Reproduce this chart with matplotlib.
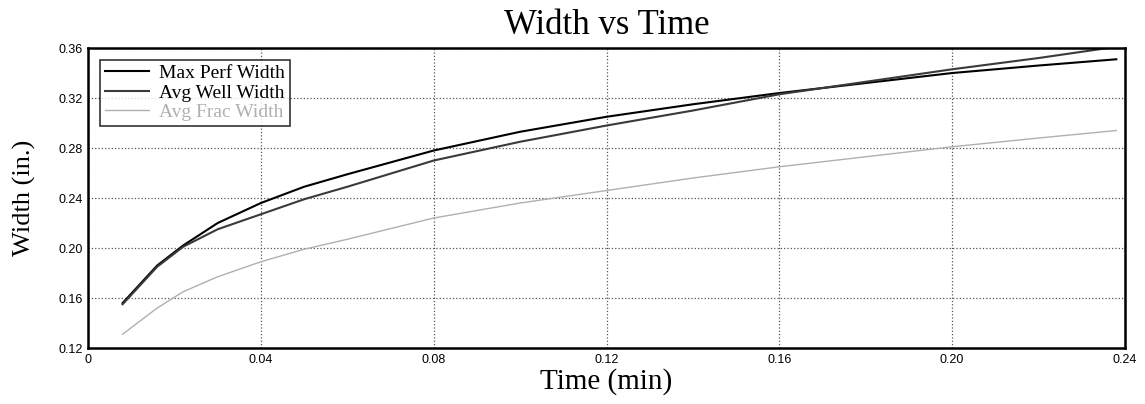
import matplotlib.pyplot as plt

# values
time = [0.008, 0.016, 0.022, 0.03, 0.04, 0.05, 0.06, 0.08, 0.10, 0.12,
        0.14, 0.16, 0.18, 0.20, 0.22, 0.238]
max_perf = [0.156, 0.186, 0.202, 0.220, 0.236, 0.249, 0.259, 0.278, 0.293, 0.305,
            0.315, 0.324, 0.332, 0.340, 0.346, 0.351]
avg_well = [0.155, 0.185, 0.201, 0.215, 0.227, 0.239, 0.249, 0.270, 0.285, 0.298,
            0.310, 0.323, 0.333, 0.343, 0.352, 0.361]
avg_frac = [0.131, 0.152, 0.165, 0.177, 0.189, 0.199, 0.207, 0.224, 0.236, 0.246,
            0.256, 0.265, 0.273, 0.281, 0.288, 0.294]

x_ticks = [0, 0.04, 0.08, 0.12, 0.16, 0.20, 0.24]
x_labels = ['0', '0.04', '0.08', '0.12', '0.16', '0.20', '0.24']
y_ticks = [0.12, 0.16, 0.20, 0.24, 0.28, 0.32, 0.36]
y_labels = ['0.12', '0.16', '0.20', '0.24', '0.28', '0.32', '0.36']

serif = 'Liberation Serif'

fig = plt.figure(figsize=(11.45, 4.04), dpi=100)
ax = fig.add_axes([0.0769, 0.1386, 0.9056, 0.7425])

ax.plot(time, max_perf, color='black', lw=1.5, label='Max Perf Width')
ax.plot(time, avg_well, color='#3a3a3a', lw=1.5, label='Avg Well Width')
ax.plot(time, avg_frac, color='#b0b0b0', lw=1.0, label='Avg Frac Width')

ax.set_xlim(0, 0.24)
ax.set_ylim(0.12, 0.36)
ax.set_xticks(x_ticks)
ax.set_xticklabels(x_labels, family='Liberation Sans', fontsize=9)
ax.set_yticks(y_ticks)
ax.set_yticklabels(y_labels, family='Liberation Sans', fontsize=9)
ax.tick_params(length=0, pad=4)
ax.grid(True, color='#555555', linestyle=':', linewidth=0.9)

for s in ax.spines.values():
    s.set_linewidth(1.8)
    s.set_color('black')

ax.set_title('Width vs Time', family=serif, fontsize=25, pad=10)
ax.set_xlabel('Time (min)', family=serif, fontsize=21, labelpad=2)
ax.set_ylabel('Width (in.)', family=serif, fontsize=19, labelpad=16)

leg = ax.legend(loc='upper left', prop={'family': serif, 'size': 14},
                frameon=True, fancybox=False, borderaxespad=0.6,
                handlelength=2.3, handletextpad=0.5, labelspacing=0.1,
                borderpad=0.25)
leg.get_frame().set_edgecolor('black')
leg.get_frame().set_linewidth(1.2)
leg.get_texts()[2].set_color('#b0b0b0')

fig.savefig('out.png', dpi=100)
